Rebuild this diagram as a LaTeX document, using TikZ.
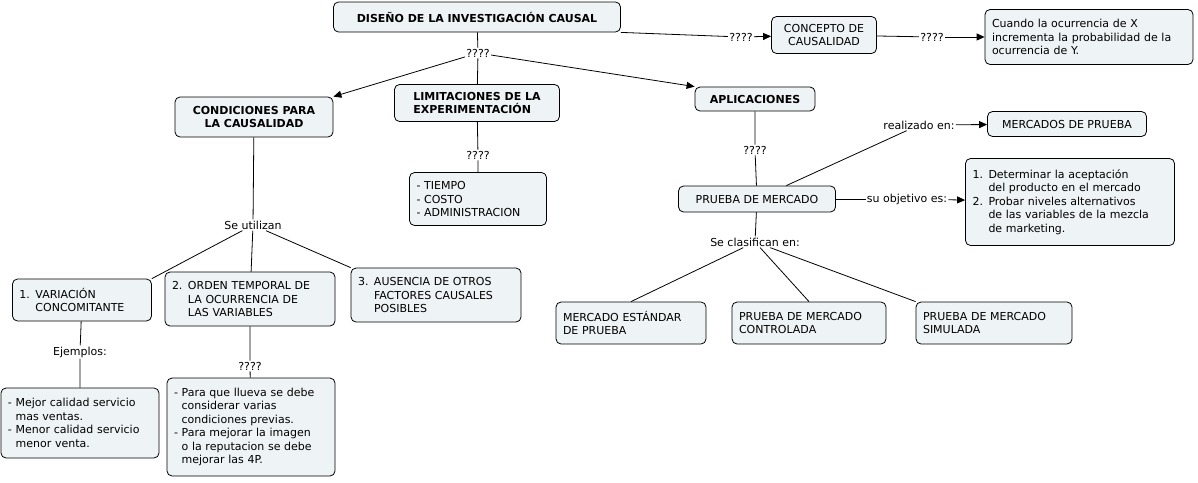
\documentclass[tikz,border=0pt]{standalone}
\usepackage{fontspec}
\setmainfont{DejaVu Sans}
\usetikzlibrary{arrows.meta}
\definecolor{boxfill}{HTML}{EEF3F5}
\begin{document}
\begin{tikzpicture}[
    x=1pt, y=-1pt, line width=0.8pt,
    font=\fontsize{11}{13.5}\selectfont,
    > = {Triangle[length=8pt,width=7pt]}, % arrow head style
    box/.style = {draw, fill=boxfill, rounded corners=5pt, inner xsep=7pt, inner ysep=5pt, align=left, text width=#1},
    box/.default = 100pt,
    head/.style = {draw, fill=boxfill, rounded corners=5pt, inner sep=5pt, font=\fontsize{11}{13.5}\selectfont\bfseries, align=center},
    lab/.style = {fill=white, inner sep=1pt},
]
\useasboundingbox (0,0) rectangle (1198,482);
% top level
\node[head, minimum width=287pt, minimum height=30pt] (dis) at (477,17) {DISEÑO DE LA INVESTIGACIÓN CAUSAL};
\node[lab] (q1) at (478,53) {????};
\node[head, minimum width=158pt, minimum height=40pt] (cond) at (254,117) {CONDICIONES PARA\\LA CAUSALIDAD};
\node[head, minimum width=165pt, minimum height=37pt, align=left] (lim) at (477,103) {LIMITACIONES DE LA\\EXPERIMENTACIÓN};
\node[head, minimum width=120pt, minimum height=24pt] (apl) at (755,99) {APLICACIONES};
\node[lab] (q2) at (741,37) {????};
\node[head, font=\fontsize{11}{13.5}\selectfont, minimum width=105pt, minimum height=37pt] (con) at (824,35) {CONCEPTO DE\\CAUSALIDAD};
\node[lab] (q3) at (932,37) {????};
\node[box=194pt, minimum height=55pt] (cua) at (1089,37) {Cuando la ocurrencia de X\\incrementa la probabilidad de la\\ocurrencia de Y.};
% limitaciones
\node[lab] (q4) at (478,155) {????};
\node[box=123pt, minimum height=53pt] (tie) at (478,199) {- TIEMPO\\- COSTO\\- ADMINISTRACION};
% aplicaciones
\node[lab] (q5) at (755,150) {????};
\node[head, font=\fontsize{11}{13.5}\selectfont, minimum width=157pt, minimum height=26pt] (pru) at (757,199) {PRUEBA DE MERCADO};
\node[lab] (rea) at (919,125) {realizado en:};
\node[head, font=\fontsize{11}{13.5}\selectfont, minimum width=159pt, minimum height=25pt] (mer) at (1067,124) {MERCADOS DE PRUEBA};
\node[lab] (obj) at (907,199) {su objetivo es:};
\node[box=195pt, minimum height=87pt] (det) at (1070,202) {1. Determinar la aceptación\\\phantom{1. }del producto en el mercado\\2. Probar niveles alternativos\\\phantom{2. }de las variables de la mezcla\\\phantom{2. }de marketing.};
\node[lab] (cla) at (755,242) {Se clasifican en:};
\node[box=136pt, minimum height=42pt] (est) at (631,323) {MERCADO ESTÁNDAR\\DE PRUEBA};
\node[box=140pt, minimum height=42pt] (ctl) at (809,323) {PRUEBA DE MERCADO\\CONTROLADA};
\node[box=142pt, minimum height=42pt] (sim) at (994,323) {PRUEBA DE MERCADO\\SIMULADA};
% condiciones
\node[lab] (uti) at (253,225) {Se utilizan};
\node[box=125pt, minimum height=42pt] (var) at (82,300) {1. VARIACIÓN\\\phantom{1. }CONCOMITANTE};
\node[box=156pt, minimum height=54pt] (ord) at (250,299) {2. ORDEN TEMPORAL DE\\\phantom{2. }LA OCURRENCIA DE\\\phantom{2. }LAS VARIABLES};
\node[box=156pt, minimum height=54pt] (aus) at (436,295) {3. AUSENCIA DE OTROS\\\phantom{3. }FACTORES CAUSALES\\\phantom{3. }POSIBLES};
\node[lab] (eje) at (80,352) {Ejemplos:};
\node[box=144pt, minimum height=70pt] (mej) at (80,423) {- Mejor calidad servicio\\\phantom{- }mas ventas.\\- Menor calidad servicio\\\phantom{- }menor venta.};
\node[lab] (q6) at (250,366) {????};
\node[box=154pt, minimum height=98pt] (par) at (251,427) {- Para que llueva se debe\\\phantom{- }considerar varias\\\phantom{- }condiciones previas.\\- Para mejorar la imagen\\\phantom{- }o la reputacion se debe\\\phantom{- }mejorar las 4P.};
% connectors
\draw (dis) -- (q1);
\draw[->] (q1) -- (cond.north east);
\draw (q1) -- (lim);
\draw[->] (q1) -- (apl.north west);
\draw (dis.south east) -- (q2);
\draw[->] (q2) -- (con);
\draw (con) -- (q3);
\draw[->] (q3) -- (cua);
\draw (lim) -- (q4) -- (tie);
\draw (apl) -- (q5) -- (pru);
\draw (pru) -- (rea);
\draw[->] (rea) -- (mer);
\draw (pru) -- (obj);
\draw[->] (obj) -- (det);
\draw (pru) -- (cla);
\draw (cla) -- (est.north);
\draw (cla) -- (ctl.north);
\draw (cla) -- (sim.north west);
\draw (cond) -- (uti);
\draw (uti) -- (var.north east);
\draw (uti) -- (ord);
\draw (uti) -- (aus.north west);
\draw (var) -- (eje) -- (mej);
\draw (ord) -- (q6) -- (par);
\end{tikzpicture}
\end{document}
